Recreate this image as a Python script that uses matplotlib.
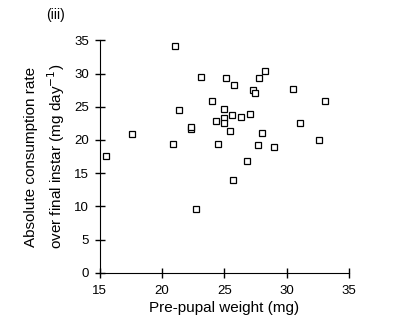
import matplotlib
matplotlib.use("Agg")
import matplotlib.pyplot as plt

plt.rcParams["font.family"] = ["Liberation Sans", "DejaVu Sans"]

# pre-pupal weight (mg) and absolute consumption rate (mg/day)
weight = [15.5, 17.6, 21.05, 20.85, 21.4, 22.3, 22.35, 22.7, 23.15, 24.0,
          24.35, 24.5, 25.0, 25.0, 25.0, 25.15, 25.45, 25.6, 25.7, 25.8,
          26.35, 26.8, 27.05, 27.3, 27.5, 27.7, 27.75, 28.0, 28.25, 29.0,
          30.5, 31.05, 32.6, 33.05]
consumption = [17.6, 20.9, 34.2, 19.4, 24.5, 21.7, 21.95, 9.6, 29.5, 25.9,
               22.9, 19.4, 24.65, 23.35, 22.5, 29.4, 21.35, 23.8, 14.0, 28.3,
               23.5, 16.9, 23.95, 27.5, 27.1, 19.3, 29.4, 21.05, 30.4, 19.0,
               27.7, 22.6, 20.0, 25.9]

fig = plt.figure(figsize=(4.02, 3.31), dpi=100)
ax = fig.add_axes([0.248, 0.176, 0.620, 0.702])

ax.plot(weight, consumption, linestyle="none", marker="s", markersize=4.8,
        markerfacecolor="white", markeredgecolor="black", markeredgewidth=0.9,
        clip_on=False)

ax.set_xlim(15, 35)
ax.set_ylim(0, 35)
ax.set_xticks([15, 20, 25, 30, 35])
ax.set_yticks([0, 5, 10, 15, 20, 25, 30, 35])
ax.spines["top"].set_visible(False)
ax.spines["right"].set_visible(False)
ax.tick_params(direction="inout", length=7, width=1, labelsize=9.5)
ax.tick_params(axis="y", pad=4)
ax.tick_params(axis="x", pad=5)

ax.set_xlabel("Pre-pupal weight (mg)", fontsize=11, labelpad=3)
ax.set_ylabel("Absolute consumption rate\nover final instar (mg day$^{-1}$)",
              fontsize=11, labelpad=5, linespacing=1.45)

fig.text(0.115, 0.955, "(iii)", fontsize=10, va="center")

fig.savefig("out.png", dpi=100)
